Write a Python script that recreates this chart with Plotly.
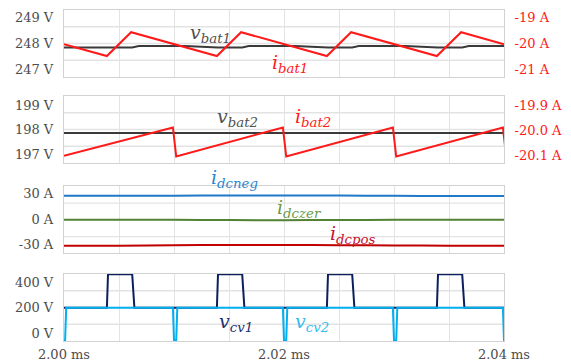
import plotly.graph_objects as go

# ---- battery 1 ----
t_bat1 = [2.0000, 2.0039, 2.0061, 2.0139, 2.0161, 2.0239, 2.0261, 2.0339, 2.0361, 2.0400]
i_bat1 = [-20.04, -20.49, -19.58, -20.49, -19.58, -20.49, -19.58, -20.49, -19.58, -20.04]
t_vbat1 = [2.0000, 2.0062, 2.0068, 2.0110, 2.0140, 2.0162, 2.0168, 2.0210, 2.0240,
           2.0262, 2.0268, 2.0310, 2.0340, 2.0362, 2.0368, 2.0400]
v_bat1 = [247.84, 247.84, 247.89, 247.89, 247.84, 247.84, 247.89, 247.89, 247.84,
          247.84, 247.89, 247.89, 247.84, 247.84, 247.89, 247.89]

# ---- battery 2 ----
t_bat2 = [2.0000, 2.0099, 2.0102, 2.0199, 2.0202, 2.0299, 2.0302, 2.0399, 2.0402]
i_bat2 = [-20.100, -19.988, -20.103, -19.988, -20.103, -19.988, -20.103, -19.988, -20.103]
t_vbat2 = [2.000, 2.010, 2.020, 2.030, 2.040]
v_bat2 = [197.87, 197.87, 197.87, 197.87, 197.87]

# ---- dc-link currents ----
t_dc = [2.000, 2.005, 2.010, 2.015, 2.020, 2.025, 2.030, 2.035, 2.040]
i_dcneg = [27.0, 27.0, 27.2, 27.4, 27.5, 27.3, 27.0, 26.9, 26.9]
i_dczer = [-0.9, -0.9, -1.0, -1.3, -1.4, -1.2, -0.9, -0.8, -0.8]
i_dcpos = [-31.2, -31.1, -30.6, -30.3, -30.2, -30.5, -30.9, -31.2, -31.3]

# ---- cell voltages ----
t_cv1 = [2.0000, 2.0039, 2.0040, 2.0062, 2.0064, 2.0139, 2.0140, 2.0162, 2.0164,
         2.0239, 2.0240, 2.0262, 2.0264, 2.0339, 2.0340, 2.0362, 2.0364, 2.0400]
v_cv1 = [200, 200, 460, 460, 200, 200, 460, 460, 200,
         200, 460, 460, 200, 200, 460, 460, 200, 200]
t_cv2 = [2.0000, 2.0001, 2.0002, 2.0099, 2.0100, 2.0102, 2.0103, 2.0199, 2.0200,
         2.0202, 2.0203, 2.0299, 2.0300, 2.0302, 2.0303, 2.0399, 2.0400, 2.0402]
v_cv2 = [-55, -55, 200, 200, -55, -55, 200, 200, -55,
         -55, 200, 200, -55, -55, 200, 200, -55, -55]

# ---- ticks ----
x_ticks = [2.00, 2.02, 2.04]
x_ticktext = ["2.00 ms", "2.02 ms", "2.04 ms"]
x_minor = [2.005, 2.010, 2.015, 2.025, 2.030, 2.035]
y1_ticks, y1_text = [247, 248, 249], ["247 V", "248 V", "249 V"]
y1r_ticks, y1r_text = [-21, -20, -19], ["-21 A", "-20 A", "-19 A"]
y2_ticks, y2_text = [197, 198, 199], ["197 V", "198 V", "199 V"]
y2r_ticks, y2r_text = [-20.1, -20.0, -19.9], ["-20.1 A", "-20.0 A", "-19.9 A"]
y3_ticks, y3_text = [-30, 0, 30], ["-30 A", "0 A", "30 A"]
y4_ticks, y4_text = [0, 200, 400], ["0 V", "200 V", "400 V"]

RED = "#ff1a1a"
GRAY_TXT = "#4d4d4d"
GRID = "#e3e3e3"
FRAME = "#d2d2d2"
FONT = "DejaVu Serif"

fig = go.Figure()

def line(x, y, color, xa, ya, width=2.0, shape="linear"):
    fig.add_trace(go.Scatter(x=x, y=y, mode="lines", xaxis=xa, yaxis=ya,
                             line=dict(color=color, width=width, shape=shape),
                             hoverinfo="skip", showlegend=False))

line(t_vbat1, v_bat1, "#3a3a3a", "x", "y")
line(t_bat1, i_bat1, RED, "x", "y5")
line(t_vbat2, v_bat2, "#3a3a3a", "x2", "y2")
line(t_bat2, i_bat2, RED, "x2", "y6")
line(t_dc, i_dcneg, "#1f78c8", "x3", "y3", shape="spline")
line(t_dc, i_dczer, "#548235", "x3", "y3", shape="spline")
line(t_dc, i_dcpos, "#c00000", "x3", "y3", shape="spline")
line(t_cv1, v_cv1, "#0b1f5c", "x4", "y4")
line(t_cv2, v_cv2, "#00b0f0", "x4", "y4")

tickfont = dict(family=FONT, size=13, color=GRAY_TXT)

def xax(anchor, labels):
    return dict(domain=[0, 1], anchor=anchor, range=[2.0, 2.04], automargin=False,
                tickmode="array", tickvals=x_ticks, ticktext=x_ticktext,
                showticklabels=labels, showgrid=True, gridcolor=GRID, gridwidth=1.3,
                minor=dict(tickmode="array", tickvals=x_minor, showgrid=True,
                           gridcolor=GRID, gridwidth=1.3, ticks=""),
                zeroline=False, showline=True, mirror=True, linecolor=FRAME, linewidth=1.3,
                ticks="outside", ticklen=1, tickcolor="rgba(0,0,0,0)",
                tickfont=tickfont)

def yax(domain, rng, vals, text, anchor, side="left", overlay=None, color=GRAY_TXT):
    d = dict(domain=domain, range=rng, anchor=anchor, side=side, automargin=False,
             tickmode="array", tickvals=vals, ticktext=text,
             showgrid=False, zeroline=False,
             ticks="outside", ticklen=7, tickcolor="rgba(0,0,0,0)",
             tickfont=dict(family=FONT, size=13, color=color))
    if overlay:
        d["overlaying"] = overlay
        d["showline"] = False
    else:
        d.update(showline=True, mirror=True, linecolor=FRAME, linewidth=1.3)
    return d

dom1 = [0.7976, 1.0]
dom2 = [0.5378, 0.7402]
dom3 = [0.2650, 0.4671]
dom4 = [0.0, 0.2024]

fig.update_layout(
    width=571, height=363,
    margin=dict(l=64, r=67, t=10, b=22),
    paper_bgcolor="white", plot_bgcolor="white",
    showlegend=False,
    xaxis=xax("y", False),
    xaxis2=xax("y2", False),
    xaxis3=xax("y3", False),
    xaxis4=xax("y4", True),
    yaxis=yax(dom1, [246.71, 249.27], y1_ticks, y1_text, "x"),
    yaxis2=yax(dom2, [196.65, 199.38], y2_ticks, y2_text, "x2"),
    yaxis3=yax(dom3, [-40.0, 38.0], y3_ticks, y3_text, "x3"),
    yaxis4=yax(dom4, [-59, 462], y4_ticks, y4_text, "x4"),
    yaxis5=yax(dom1, [-21.29, -18.73], y1r_ticks, y1r_text, "x", "right", "y", RED),
    yaxis6=yax(dom2, [-20.129, -19.863], y2r_ticks, y2r_text, "x2", "right", "y2", RED),
)

# horizontal grid at quarter heights of every panel
shapes = []
for k in ["", "2", "3", "4"]:
    for f in (0.25, 0.5, 0.75):
        shapes.append(dict(type="line", xref=f"x{k} domain", yref=f"y{k} domain",
                           x0=0, x1=1, y0=f, y1=f, layer="below",
                           line=dict(color=GRID, width=1.3)))
fig.update_layout(shapes=shapes)

# series labels
def px2paper(px, py):
    return (px - 64) / 440.0, (341 - py) / 331.0

labels = [
    ("v", "bat1", "#505050", 210, 34),
    ("i", "bat1", RED, 290, 64),
    ("v", "bat2", "#505050", 237, 118),
    ("i", "bat2", RED, 313, 118),
    ("i", "dcneg", "#2b86d0", 234, 178),
    ("i", "dczer", "#6a9a4a", 299, 208),
    ("i", "dcpos", "#c8102e", 353, 234),
    ("v", "cv1", "#1f3070", 236, 322),
    ("v", "cv2", "#33bbee", 312, 322),
]
for sym, sub, col, px, py in labels:
    ax, ay = px2paper(px, py)
    fig.add_annotation(x=ax, y=ay, xref="paper", yref="paper",
                       text=f"<i>{sym}</i><sub><i>{sub}</i></sub>",
                       showarrow=False, xanchor="center", yanchor="middle",
                       font=dict(family=FONT, size=19, color=col))

fig.write_html("out.html")
